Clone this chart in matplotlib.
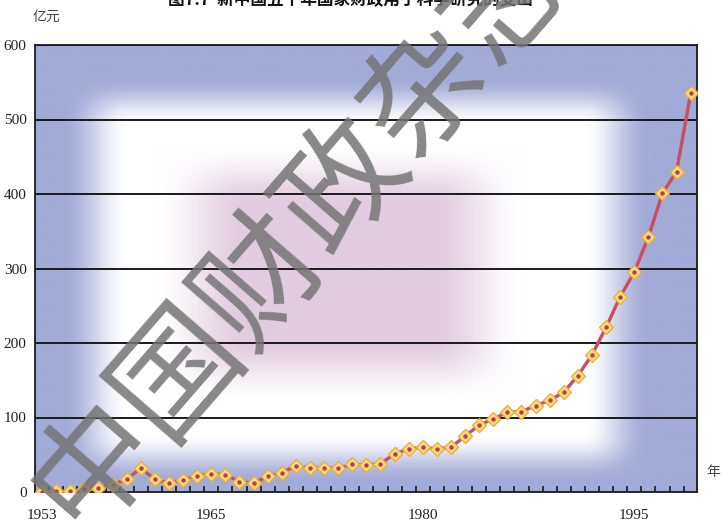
import numpy as np
import matplotlib
matplotlib.use("Agg")
import matplotlib.pyplot as plt

plt.rcParams['font.family'] = ['Liberation Serif', 'Noto Sans CJK SC', 'DejaVu Sans']

years = list(range(1953, 2000))
values = [0.5, 1, 1.5, 4, 5, 10, 17, 32, 17, 12,
          16, 22, 24, 23, 14, 12, 21, 26, 35, 32,
          32, 32, 37, 36, 38, 51, 58, 60, 58, 60,
          75, 90, 98, 107, 108, 116, 123, 134, 156, 184,
          221, 262, 295, 342, 401, 430, 535]
xtick_years = [1953, 1965, 1980, 1995]
ytick_vals = [0, 100, 200, 300, 400, 500, 600]
title = "图7.7  新中国五十年国家财政用于科学研究的支出"
y_unit = "亿元"
x_unit = "年"
watermark = "中国财政杂志"

W, H = 724, 530
fig = plt.figure(figsize=(W / 100, H / 100), dpi=100)
fig.patch.set_facecolor('white')
ax = fig.add_axes([35 / W, 1 - 492 / H, 662 / W, 447 / H])

xlim = (1952.5, 1999.45)
ylim = (0, 600)
ax.set_xlim(*xlim)
ax.set_ylim(*ylim)

# background gradient
nu, nv = 400, 300
u = np.linspace(0, 1, nu)[None, :]
v = np.linspace(0, 1, nv)[:, None]

def smooth(t):
    t = np.clip(t, 0, 1)
    return t * t * (3 - 2 * t)

def box(u, v, u0, u1, eu, v0, v1, ev):
    mu = smooth((u - u0) / eu) * smooth((u1 - u) / eu)
    mv = smooth((v - v0) / ev) * smooth((v1 - v) / ev)
    return mu * mv

white = box(u, v, 0.04, 0.93, 0.10, 0.07, 0.98, 0.11)
pink = box(u, v, 0.18, 0.74, 0.14, 0.22, 0.80, 0.14)
blue = np.array([162, 170, 215]) / 255.0
wcol = np.array([255, 255, 255]) / 255.0
pcol = np.array([226, 204, 224]) / 255.0
img = blue[None, None, :] * (1 - white[..., None]) + wcol[None, None, :] * white[..., None]
img = img * (1 - pink[..., None]) + pcol[None, None, :] * pink[..., None]
ax.imshow(img, extent=[xlim[0], xlim[1], ylim[0], ylim[1]], aspect='auto',
          origin='upper', zorder=0, interpolation='bilinear')

# gridlines
for yv in ytick_vals[1:]:
    ax.axhline(yv, color='#1a1a1a', lw=1.4, zorder=1)

# line and markers
ax.plot(years, values, color='#c8505e', lw=2.4, zorder=3)
ax.plot(years, values, linestyle='none', marker='D', markersize=7,
        markerfacecolor='#f7dc80', markeredgecolor='#e8b040', markeredgewidth=1.0, zorder=4)
ax.plot(years, values, linestyle='none', marker='o', markersize=3.2,
        markerfacecolor='#c03a48', markeredgecolor='none', zorder=5)

for s in ax.spines.values():
    s.set_color('#1a1a1a')
    s.set_linewidth(1.3)

ax.set_yticks(ytick_vals)
ax.set_yticklabels([str(t) for t in ytick_vals], fontsize=11)
ax.tick_params(axis='y', length=0, pad=6, labelcolor='#222222')
ax.set_xticks(xtick_years)
ax.set_xticklabels([str(t) for t in xtick_years], fontsize=11)
ax.set_xticks([y + 0.5 for y in years[:-1]], minor=True)
ax.tick_params(axis='x', which='major', length=0, pad=12, labelcolor='#222222')
ax.tick_params(axis='x', which='minor', direction='in', length=4, width=1.2, color='#1a1a1a')

fig.text(46 / W, 1 - 17 / H, y_unit, fontsize=10, family=['Noto Sans CJK SC'],
         color='#444444', ha='center', va='center')
fig.text(713 / W, 1 - 472 / H, x_unit, fontsize=10, family=['Noto Sans CJK SC'],
         color='#444444', ha='center', va='center')
fig.text(350 / W, 1 - 0 / H, title, fontsize=12, family=['Noto Sans CJK SC'],
         weight='bold', color='#111111', ha='center', va='center')

# watermark
fig.text(301 / W, 1 - 228 / H, watermark, fontsize=90, family=['Noto Sans CJK SC'],
         color='#747474', alpha=0.85, rotation=49, ha='center',
         va='center', rotation_mode='anchor', zorder=10)

fig.savefig('out.png', dpi=100)
